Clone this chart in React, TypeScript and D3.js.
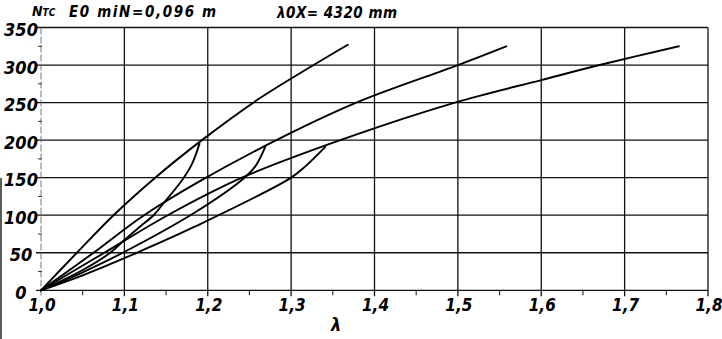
import React from "react";
import * as d3 from "d3";

const X_TICKS = [1.0, 1.1, 1.2, 1.3, 1.4, 1.5, 1.6, 1.7, 1.8];
const X_TICK_LABELS = ["1,0", "1,1", "1,2", "1,3", "1,4", "1,5", "1,6", "1,7", "1,8"];
const X_MINOR = [1.05, 1.15, 1.25, 1.35, 1.45, 1.55, 1.65, 1.75];
const Y_TICKS = [0, 50, 100, 150, 200, 250, 300, 350];
const Y_TICK_LABELS = ["0", "50", "100", "150", "200", "250", "300", "350"];
const Y_MINOR = [25, 75, 125, 175, 225, 275, 325];

// loading curves
const A_X = [1.0, 1.043, 1.087, 1.137, 1.193, 1.26, 1.327, 1.368];
const A_Y = [0, 50, 100, 150, 200, 254, 300, 327];
const B_X = [1.0, 1.063, 1.121, 1.19, 1.293, 1.3825, 1.5, 1.558];
const B_Y = [0, 50, 98, 145, 206, 252, 300, 325];
const C_X = [1.0, 1.076, 1.152, 1.241, 1.364, 1.4965, 1.6, 1.67, 1.765];
const C_Y = [0, 50, 100, 150, 202, 250, 280, 300, 325];
// branch curves
const A2_X = [1.0, 1.05, 1.083, 1.1, 1.119, 1.135, 1.147, 1.17, 1.181, 1.19];
const A2_Y = [0, 27, 50, 67, 85, 100, 116, 148, 168, 195];
const B2_X = [1.0, 1.05, 1.098, 1.185, 1.243, 1.257, 1.269];
const B2_Y = [0, 24, 50, 104, 149, 165, 191];
const C2_X = [1.0, 1.05, 1.115, 1.185, 1.2986, 1.317, 1.341];
const C2_Y = [0, 20, 50, 85, 149, 165, 191];

const SERIES = [
  [A_X, A_Y],
  [B_X, B_Y],
  [C_X, C_Y],
  [A2_X, A2_Y],
  [B2_X, B2_Y],
  [C2_X, C2_Y],
];

const W = 722;
const H = 339;
const FONT = "'Liberation Sans Narrow', 'DejaVu Sans Condensed', sans-serif";

export default function App() {
  const x = d3.scaleLinear().domain([1.0, 1.8]).range([41, 708]);
  const y = d3.scaleLinear().domain([0, 350]).range([290.3, 27.5]);
  const line = d3
    .line<[number, number]>()
    .x((d) => x(d[0]))
    .y((d) => y(d[1]))
    .curve(d3.curveCatmullRom.alpha(0.5));

  return (
    <svg
      width={W}
      height={H}
      viewBox={`0 0 ${W} ${H}`}
      style={{ position: "absolute", left: 0, top: 0, background: "#fff" }}
    >
      <rect x={0} y={0} width={W} height={H} fill="#fff" />
      {/* scan edge */}
      <line x1={1} x2={1} y1={178} y2={339} stroke="#333" strokeWidth={1.6} />

      {/* horizontal grid */}
      {Y_TICKS.map((v) => (
        <line
          key={"hy" + v}
          x1={36}
          x2={x(1.8)}
          y1={y(v)}
          y2={y(v)}
          stroke="#111"
          strokeWidth={1.3}
        />
      ))}
      {/* vertical grid */}
      {X_TICKS.map((v) => (
        <line
          key={"vx" + v}
          x1={x(v)}
          x2={x(v)}
          y1={y(350)}
          y2={y(0) + 6}
          stroke={v === 1.0 ? "#666" : "#111"}
          strokeWidth={v === 1.0 ? 0.9 : 1.3}
          strokeDasharray={v === 1.0 ? "7 2" : undefined}
        />
      ))}
      {/* minor ticks */}
      {X_MINOR.map((v) => (
        <line
          key={"mx" + v}
          x1={x(v)}
          x2={x(v)}
          y1={y(0)}
          y2={y(0) + 5}
          stroke="#222"
          strokeWidth={1.1}
        />
      ))}
      {Y_MINOR.map((v) => (
        <line
          key={"my" + v}
          x1={x(1.0) - 3}
          x2={x(1.0) + 1}
          y1={y(v)}
          y2={y(v)}
          stroke="#333"
          strokeWidth={1}
        />
      ))}

      {/* curves */}
      {SERIES.map(([xs, ys], i) => (
        <path
          key={"s" + i}
          d={line(xs.map((xv, j) => [xv, ys[j]] as [number, number])) || ""}
          fill="none"
          stroke="#000"
          strokeWidth={1.9}
          strokeLinejoin="round"
          strokeLinecap="round"
        />
      ))}

      {/* y labels */}
      {Y_TICKS.map((v, i) => (
        <text
          key={"yl" + v}
          x={21}
          y={y(v) + 8.5}
          textAnchor="middle"
          fontFamily={FONT}
          fontStyle="italic"
          fontWeight="bold"
          fontSize={18}
          fill="#000"
        >
          {Y_TICK_LABELS[i]}
        </text>
      ))}
      {/* x labels */}
      {X_TICKS.map((v, i) => (
        <text
          key={"xl" + v}
          x={x(v) + 1}
          y={311}
          textAnchor="middle"
          fontFamily={FONT}
          fontStyle="italic"
          fontWeight="bold"
          fontSize={17}
          fill="#000"
        >
          {X_TICK_LABELS[i]}
        </text>
      ))}
      {/* axis title */}
      <text x={336} y={331} textAnchor="middle" fontFamily={FONT} fontStyle="italic" fontWeight="bold" fontSize={18} fill="#000">
        λ
      </text>

      {/* header */}
      <text x={32} y={16} fontFamily={FONT} fontStyle="italic" fontWeight="bold" fontSize={14} fill="#000">
        N
        <tspan fontSize={10}>TC</tspan>
      </text>
      <text
        x={69}
        y={17}
        fontFamily={FONT}
        fontStyle="italic"
        fontWeight="bold"
        fontSize={15}
        fill="#000"
        textLength={147}
        lengthAdjust="spacing"
      >
        E0 miN=0,096 m
      </text>
      <text
        x={277}
        y={18}
        fontFamily={FONT}
        fontStyle="italic"
        fontWeight="bold"
        fontSize={15}
        fill="#000"
        textLength={120}
        lengthAdjust="spacing"
      >
        λ0X= 4320 mm
      </text>
    </svg>
  );
}
